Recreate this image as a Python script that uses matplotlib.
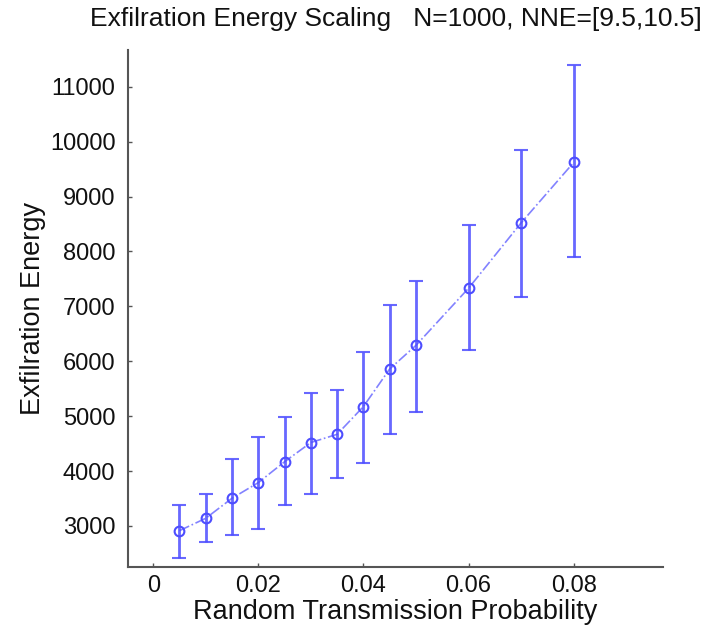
import matplotlib.pyplot as plt

plt.rcParams['font.family'] = ['Liberation Sans', 'DejaVu Sans']

# transmission probability and measured exfiltration energy
prob = [0.005, 0.01, 0.015, 0.02, 0.025, 0.03, 0.035, 0.04, 0.045, 0.05, 0.06, 0.07, 0.08]
energy = [2915, 3140, 3505, 3790, 4170, 4520, 4670, 5175, 5860, 6290, 7330, 8520, 9620]
err_low = [2412, 2703, 2836, 2940, 3383, 3583, 3869, 4153, 4676, 5082, 6206, 7177, 7894]
err_high = [3383, 3583, 4215, 4616, 4980, 5417, 5477, 6164, 7025, 7468, 8480, 9850, 11400]

yerr = [[e - lo for e, lo in zip(energy, err_low)],
        [hi - e for e, hi in zip(energy, err_high)]]

fig = plt.figure(figsize=(7.11, 6.27), dpi=100)
ax = fig.add_axes([0.18, 0.0957, 0.7525, 0.8245])

blue = (0.3, 0.3, 1.0)
ax.errorbar(prob, energy, yerr=yerr, fmt='none', ecolor=blue, elinewidth=2,
            capsize=5, capthick=1.5, alpha=0.85)
ax.plot(prob, energy, linestyle='-.', color=blue, linewidth=1.2, alpha=0.7)
ax.plot(prob, energy, linestyle='none', marker='o', markersize=7,
        markerfacecolor='none', markeredgecolor=blue, markeredgewidth=1.5)

ax.set_xlim(-0.0048, 0.097)
ax.set_ylim(2253, 11668)
ax.set_xticks([0, 0.02, 0.04, 0.06, 0.08])
ax.set_xticklabels(['0', '0.02', '0.04', '0.06', '0.08'])
ax.set_yticks(range(3000, 11001, 1000))

for side in ['top', 'right']:
    ax.spines[side].set_visible(False)
for side in ['left', 'bottom']:
    ax.spines[side].set_color('#555555')
    ax.spines[side].set_linewidth(1.5)
ax.tick_params(direction='in', length=3, width=1, colors='#555555',
               labelcolor='#111111', labelsize=17)
ax.tick_params(axis='y', pad=9)
ax.tick_params(axis='x', pad=6)

ax.set_xlabel('Random Transmission Probability', fontsize=19.5, labelpad=1, color='#111111')
ax.set_ylabel('Exfilration Energy', fontsize=19.5, labelpad=3, color='#111111')
ax.set_title('Exfilration Energy Scaling   N=1000, NNE=[9.5,10.5]',
             fontsize=19, pad=17, color='#111111')

fig.savefig('out.png', dpi=100)
